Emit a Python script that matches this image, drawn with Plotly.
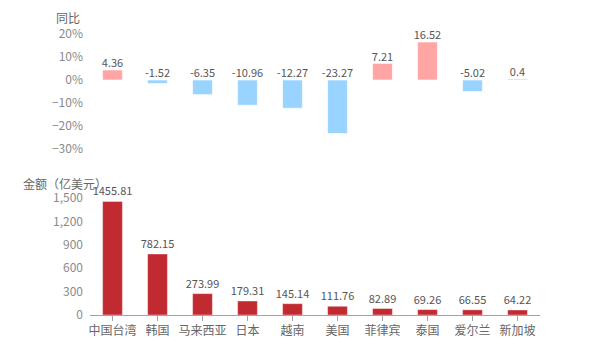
import plotly.graph_objects as go

categories = ["中国台湾", "韩国", "马来西亚", "日本", "越南", "美国", "菲律宾", "泰国", "爱尔兰", "新加坡"]
yoy = [4.36, -1.52, -6.35, -10.96, -12.27, -23.27, 7.21, 16.52, -5.02, 0.4]
amount = [1455.81, 782.15, 273.99, 179.31, 145.14, 111.76, 82.89, 69.26, 66.55, 64.22]

FONT = "Microsoft YaHei, Noto Sans CJK SC, sans-serif"
POS = "#FFA5A5"
NEG = "#99D3FF"
RED = "#C22A32"
TICK = "#8A8A8A"
CAT = "#666666"
LABEL = "#555555"

fig = go.Figure()

fig.add_trace(go.Bar(
    x=categories, y=yoy,
    marker=dict(color=[POS if v >= 0 else NEG for v in yoy],
                line=dict(color="rgba(255,255,255,0.6)", width=1)),
    width=0.44, xaxis="x", yaxis="y", hoverinfo="skip", showlegend=False,
))
fig.add_trace(go.Scatter(
    x=categories, y=[max(v, 0) for v in yoy],
    mode="text", text=[f"{v:g}" for v in yoy], textposition="top center",
    textfont=dict(size=11, color=LABEL, family=FONT),
    xaxis="x", yaxis="y", hoverinfo="skip", showlegend=False, cliponaxis=False,
))
fig.add_trace(go.Bar(
    x=categories, y=amount,
    marker=dict(color=RED, line=dict(color="rgba(255,255,255,0.4)", width=1)),
    width=0.44, text=[f"{v:.2f}" for v in amount], textposition="outside",
    textfont=dict(size=11, color=LABEL, family=FONT),
    constraintext="none", cliponaxis=False,
    xaxis="x2", yaxis="y2", hoverinfo="skip", showlegend=False,
))

fig.update_layout(
    width=600, height=350, autosize=False,
    margin=dict(l=0, r=0, t=0, b=0, pad=0, autoexpand=False),
    paper_bgcolor="white", plot_bgcolor="white",
    font=dict(family=FONT, size=12, color=TICK),
    xaxis=dict(domain=[0.15, 0.9], showticklabels=False, showline=False,
               showgrid=False, zeroline=False, ticks="", categoryorder="array",
               categoryarray=categories, automargin=False),
    yaxis=dict(domain=[1 - 149 / 350, 1 - 34 / 350], range=[-30, 20], dtick=10,
               tick0=0, ticksuffix="%", showgrid=False, zeroline=False,
               showline=False, tickfont=dict(size=12, color=TICK),
               ticklabelstandoff=6, automargin=False),
    xaxis2=dict(domain=[0.15, 0.9], anchor="y2", showline=True, linecolor="#A0A3AA",
                linewidth=1, ticks="outside", ticklen=5, tickcolor="#A0A3AA",
                showgrid=False, zeroline=False, tickfont=dict(size=12, color=CAT),
                categoryorder="array", categoryarray=categories, automargin=False),
    yaxis2=dict(domain=[1 - 315 / 350, 1 - 198 / 350], anchor="x2", range=[0, 1500],
                dtick=300, tickformat=",", showgrid=False, zeroline=False,
                showline=False, tickfont=dict(size=12, color=TICK),
                ticklabelstandoff=6, automargin=False),
    annotations=[
        dict(text="同比", x=82 / 600, y=1 - 17 / 350, xref="paper", yref="paper",
             xanchor="right", yanchor="middle", showarrow=False,
             font=dict(size=12, color=CAT, family=FONT)),
        dict(text="金额（亿美元）", x=65 / 600, y=1 - 183 / 350, xref="paper", yref="paper",
             xanchor="center", yanchor="middle", showarrow=False,
             font=dict(size=12, color=CAT, family=FONT)),
    ],
)

fig.write_html("out.html",
               post_script="document.body.style.margin='0';document.documentElement.style.overflow='hidden';")
